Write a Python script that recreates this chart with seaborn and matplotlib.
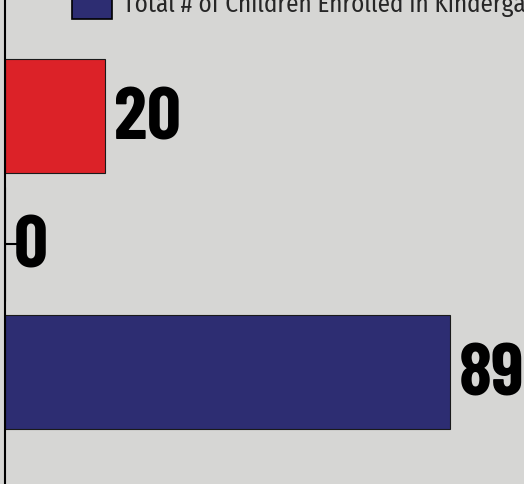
import matplotlib
matplotlib.use("Agg")
import matplotlib.pyplot as plt
from matplotlib.patches import Patch
import pandas as pd
import seaborn as sns

# data
categories = ["Children Not Meeting Benchmark", "Children Referred", "Total # of Children Enrolled in Kindergarten"]
values = [20, 0, 89]
bar_colors = ["#dc2228", "#d6d6d4", "#2d2d72"]
legend_label = "Total # of Children Enrolled in Kindergarten"

BG = "#d6d6d4"
NARROW = ["Fira Sans Condensed", "DejaVu Sans"]
DIGITS = ["Barlow Condensed", "Fira Sans Condensed", "DejaVu Sans"]

df = pd.DataFrame({"category": categories, "value": values})

sns.set_style("white")
plt.rcParams["font.family"] = NARROW

fig = plt.figure(figsize=(5.24, 4.85), dpi=100)
fig.patch.set_facecolor(BG)
ax = fig.add_axes([0, 0, 1, 1])
ax.set_facecolor(BG)

sns.barplot(data=df, x="value", y="category", hue="category", palette=bar_colors,
            saturation=1, orient="h", width=0.89, edgecolor="#1a1a1a", linewidth=0.8,
            legend=False, ax=ax)

# value labels next to each bar end
for cont in ax.containers:
    for bar in cont:
        w = bar.get_width()
        ax.annotate(f"{w:.0f}", (w, bar.get_y() + bar.get_height() / 2),
                    xytext=(6.5, -2.5), textcoords="offset points",
                    ha="left", va="center", fontsize=54, fontweight="bold",
                    family=DIGITS, color="black")

# pixel-matched limits: left spine at x=5px, 5px per unit
ax.set_xlim(-1, 103.8)
ax.set_ylim(2.875, -0.914)

for side in ["top", "right", "bottom"]:
    ax.spines[side].set_visible(False)
ax.spines["left"].set_position(("data", 0))
ax.spines["left"].set_linewidth(1.5)
ax.spines["left"].set_color("black")

ax.set_xticks([])
ax.set_yticks([1])
ax.set_yticklabels([""])
ax.tick_params(axis="y", left=True, direction="in", length=8.6, width=1.5, color="black")
ax.set_xlabel("")
ax.set_ylabel("")

handle = Patch(facecolor=bar_colors[2], edgecolor="black", linewidth=1.2)
fig.legend([handle], [legend_label], loc="center left",
           bbox_to_anchor=(72 / 524, 1 - 4 / 485), frameon=False,
           fontsize=18, handlelength=1.6, handleheight=1.55,
           handletextpad=0.45, borderpad=0, borderaxespad=0)

fig.savefig("out.png", dpi=100, facecolor=BG)
